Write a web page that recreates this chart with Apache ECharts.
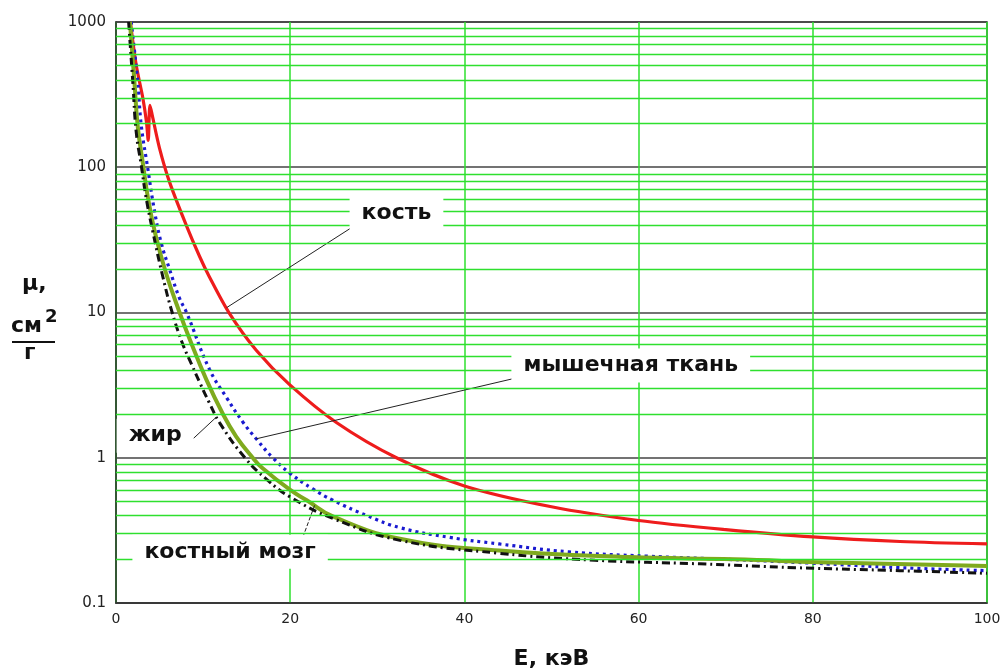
<!DOCTYPE html>
<html><head><meta charset="utf-8">
<script src="https://cdn.jsdelivr.net/npm/echarts@6/dist/echarts.min.js"></script>
<style>html,body{margin:0;padding:0;background:#fff}#c{width:1005px;height:669px}</style>
</head><body><div id="c"></div>
<script>
// Bone (кость)
const boneE  = [1.65, 2.32, 3.08, 3.5, 3.7, 3.9, 4.2, 5.0, 6.15, 8.06, 9.6, 10.7, 13.0, 16.1, 19.9, 25.3, 32.2, 40, 50, 60, 70, 80, 90, 100];
const boneMu = [1000, 505, 300, 205, 153, 267, 222, 135, 79, 40, 24.3, 17.7, 9.9, 5.5, 3.2, 1.75, 1.0, 0.64, 0.46, 0.37, 0.32, 0.285, 0.265, 0.255];
// Muscle (мышечная ткань)
const muscleE  = [1.75, 2.5, 2.9, 3.65, 4.42, 5.2, 6.15, 7.3, 8.1, 10.7, 12.7, 14.6, 16.1, 18, 20, 22.6, 24.9, 28.8, 32.6, 38.3, 44, 52, 61, 70, 80, 90, 100];
const muscleMu = [1000, 385, 194, 98, 50, 30, 19.8, 12.5, 10, 4.1, 2.59, 1.75, 1.35, 1.0, 0.78, 0.61, 0.51, 0.4, 0.33, 0.283, 0.255, 0.225, 0.21, 0.2, 0.188, 0.175, 0.167];
// Bone marrow (костный мозг)
const marrowE  = [1.6, 2.1, 2.5, 3.1, 3.7, 4.5, 5.7, 7.3, 8.44, 10.4, 12.2, 13.8, 15.7, 16.8, 20, 21.9, 24.9, 32.6, 44, 59, 71, 82, 100];
const marrowMu = [1000, 400, 190, 105, 60, 35, 19, 10, 6.6, 3.42, 2.04, 1.4, 1.0, 0.85, 0.6, 0.51, 0.395, 0.277, 0.23, 0.207, 0.2, 0.19, 0.18];
// Fat (жир)
const fatE  = [1.45, 1.93, 2.32, 2.9, 3.47, 4.23, 5.38, 6.45, 7.6, 8.7, 9.6, 10.7, 11.9, 14.8, 17.3, 20, 25, 32.6, 44, 55, 67, 78, 90, 100];
const fatMu = [1000, 385, 175, 103, 61, 36, 17.6, 10.0, 6.2, 4.37, 3.31, 2.4, 1.74, 1.0, 0.71, 0.537, 0.38, 0.27, 0.22, 0.197, 0.186, 0.175, 0.167, 0.16];

const yTicks = [0.1, 1, 10, 100, 1000];
const xTicks = [0, 20, 40, 60, 80, 100];
const minorY = [0.2,0.3,0.4,0.5,0.6,0.7,0.8,0.9, 2,3,4,5,6,7,8,9, 20,30,40,50,60,70,80,90, 200,300,400,500,600,700,800,900];

const labelNames = ['кость', 'мышечная ткань', 'жир', 'костный мозг'];
const labelX = [32.2, 59.1, 4.5, 13.1];
const labelY = [48.2, 4.31, 1.42, 0.225];
// leader lines in data units
const leaderFrom = [[12.7, 10.8], [16.1, 1.35], [11.5, 1.9], [22.8, 0.47]];
const leaderTo   = [[28.0, 41.8], [46.1, 3.56], [7.6, 1.15], [21.3, 0.268]];

const zip = (a, b) => a.map((v, i) => [v, b[i]]);

const chart = echarts.init(document.getElementById('c'));
const FONT = 'DejaVu Sans';
const series = [
  { type:'line', data:[], silent:true, z:1,
    markLine:{ silent:true, symbol:'none', label:{show:false}, animation:false,
      lineStyle:{color:'#2ee02e', width:1.3, type:'solid'},
      data: minorY.map(v => ({yAxis: v})) } },
  { name:'кость', type:'line', data: zip(boneE, boneMu), showSymbol:false, smooth:0.3, z:3,
    lineStyle:{color:'#ee1c1c', width:3.2} },
  { name:'мышечная ткань', type:'line', data: zip(muscleE, muscleMu), showSymbol:false, smooth:0.45, z:3,
    lineStyle:{color:'#1a1ad0', width:3.2, type:[3,4]} },
  { name:'костный мозг', type:'line', data: zip(marrowE, marrowMu), showSymbol:false, smooth:0.45, z:3,
    lineStyle:{color:'#7faa1e', width:4} },
  { name:'жир', type:'line', data: zip(fatE, fatMu), showSymbol:false, smooth:0.45, z:3,
    lineStyle:{color:'#111', width:3, type:[8,4,2,4]} }
];
leaderFrom.forEach((p, i) => {
  series.push({ type:'line', data:[p, leaderTo[i]], showSymbol:false, silent:true, z:4,
    lineStyle:{color:'#222', width:1, type: i === 3 ? [4,2] : 'solid'} });
});
series.push({ type:'scatter', z:6, silent:true, symbolSize:0, itemStyle:{opacity:1},
  data: labelNames.map((n, i) => ({name:n, value:[labelX[i], labelY[i]]})),
  label:{ show:true, position:'inside', formatter: p => p.name, color:'#111', opacity:1,
    fontFamily:FONT, fontWeight:'bold', fontSize:22, backgroundColor:'#fff', padding:[6,12] } });

chart.setOption({
  animation:false,
  backgroundColor:'#fff',
  grid:{ left:116, right:18, top:22, bottom:66, outerBoundsMode:'none', containLabel:false,
    show:true, borderColor:'#333', borderWidth:1.5, backgroundColor:'#fff' },
  xAxis:{ type:'value', min:xTicks[0], max:xTicks[xTicks.length-1], interval:20,
    axisLine:{lineStyle:{color:'#333', width:1.5}}, axisTick:{show:false},
    axisLabel:{color:'#222', fontFamily:FONT, fontSize:14, margin:9, formatter: v => String(v)},
    splitLine:{show:true, lineStyle:{color:'#2ee02e', width:1.5}},
    name:'E, кэВ', nameLocation:'middle', nameGap:45,
    nameTextStyle:{color:'#111', fontFamily:FONT, fontWeight:'bold', fontSize:22} },
  yAxis:{ type:'log', logBase:10, min:yTicks[0], max:yTicks[yTicks.length-1],
    axisLine:{lineStyle:{color:'#333', width:1.5}}, axisTick:{show:false},
    axisLabel:{color:'#222', fontFamily:FONT, fontSize:15, margin:10, formatter: v => String(+(+v).toPrecision(3))},
    splitLine:{show:true, lineStyle:{color:'#444', width:1.5}} },
  graphic:[
    { type:'text', left:22, top:273, style:{text:'μ,', font:'bold 22px "DejaVu Sans"', fill:'#111'} },
    { type:'text', left:11, top:315, style:{text:'см', font:'bold 22px "DejaVu Sans"', fill:'#111'} },
    { type:'text', left:45, top:308, style:{text:'2', font:'bold 18px "DejaVu Sans"', fill:'#111'} },
    { type:'line', shape:{x1:12, y1:342, x2:55, y2:342}, style:{stroke:'#111', lineWidth:2} },
    { type:'text', left:24, top:342, style:{text:'г', font:'bold 22px "DejaVu Sans"', fill:'#111'} }
  ],
  series
});
</script></body></html>
